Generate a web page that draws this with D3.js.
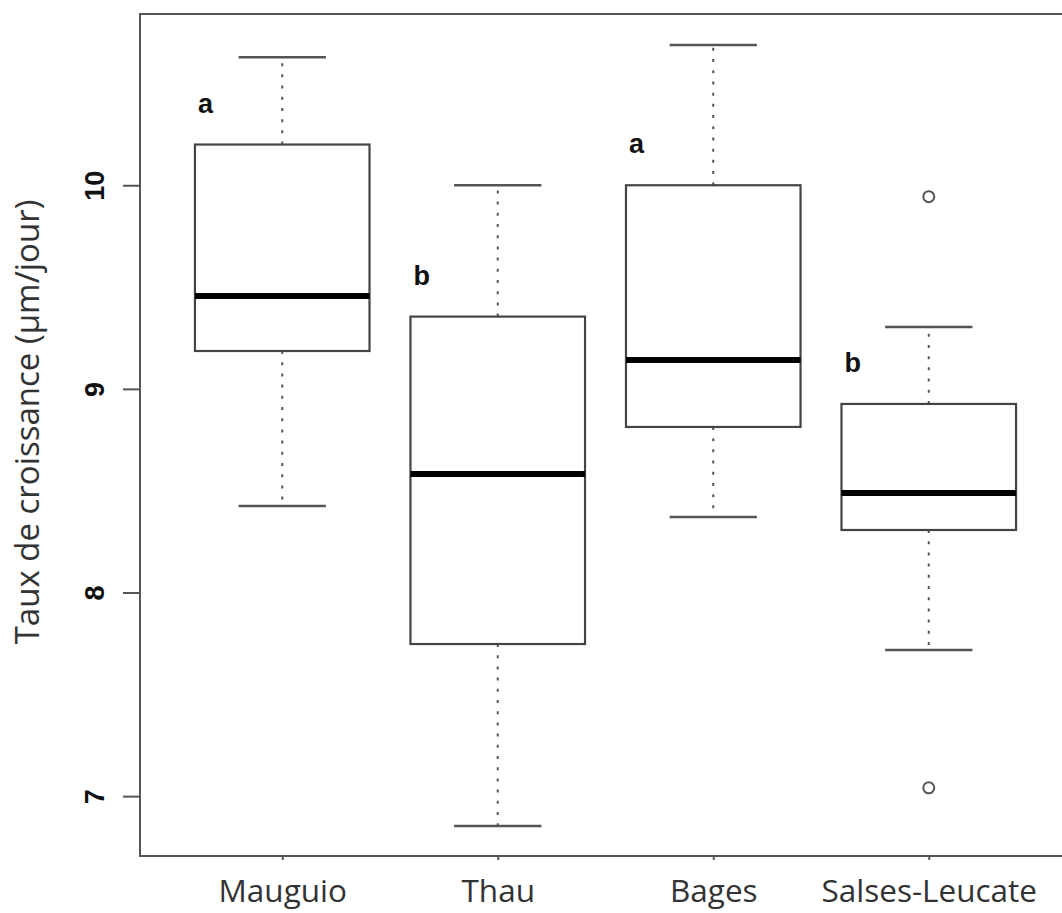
<!DOCTYPE html>
<html>
<head>
<meta charset="utf-8">
<script src="https://cdn.jsdelivr.net/npm/d3@7"></script>
<style>
  html, body { margin: 0; padding: 0; background: #fff; }
  svg { display: block; }
</style>
</head>
<body>
<svg id="chart" width="1062" height="913"></svg>
<script>
// ---- data ----
const categories = ["Mauguio", "Thau", "Bages", "Salses-Leucate"];
const whiskerLow  = [8.425, 6.853, 8.371, 7.718];
const q1          = [9.186, 7.747, 8.813, 8.307];
const median      = [9.456, 8.582, 9.142, 8.489];
const q3          = [10.20, 9.355, 10.00, 8.926];
const whiskerHigh = [10.629, 10.00, 10.689, 9.304];
const outliers    = [[], [], [], [9.944, 7.041]];
const groupLetters = ["a", "b", "a", "b"];
const yTicks = [7, 8, 9, 10];
const yTitle = "Taux de croissance (µm/jour)";

// ---- layout ----
const W = 1062, H = 913;
const frame = { left: 140, right: 1071, top: 14, bottom: 856 };
const svg = d3.select("#chart");

const x = d3.scalePoint().domain(categories)
  .range([frame.left, frame.right]).padding(0.66);
const y = d3.scaleLinear().domain([6.706, 10.841])
  .range([frame.bottom, frame.top]);

const boxW = x.step() * 0.81;
const capW = boxW / 2;
const grey = "#555";

const data = categories.map((c, i) => ({
  c, lo: whiskerLow[i], q1: q1[i], med: median[i], q3: q3[i], hi: whiskerHigh[i],
  out: outliers[i], letter: groupLetters[i]
}));

// frame
svg.append("rect")
  .attr("x", frame.left).attr("y", frame.top)
  .attr("width", frame.right - frame.left).attr("height", frame.bottom - frame.top)
  .attr("fill", "none").attr("stroke", grey).attr("stroke-width", 2);

// y axis
const yAxis = d3.axisLeft(y).tickValues(yTicks).tickSize(17).tickPadding(0).tickFormat(d3.format("d"));
const yg = svg.append("g").attr("transform", `translate(${frame.left},0)`).call(yAxis);
yg.select(".domain").remove();
yg.selectAll(".tick line").attr("stroke", grey).attr("stroke-width", 2);
yg.selectAll(".tick text")
  .attr("transform", "rotate(-90)")
  .attr("x", 0).attr("y", -36).attr("dy", 0)
  .attr("text-anchor", "middle")
  .style("font-family", "'Liberation Sans', Arial, sans-serif")
  .style("font-weight", "bold").style("font-size", "27px").attr("fill", "#111");

// x axis
const xAxis = d3.axisBottom(x).tickSize(4).tickPadding(0);
const xg = svg.append("g").attr("transform", `translate(0,${frame.bottom})`).call(xAxis);
xg.select(".domain").remove();
xg.selectAll(".tick line").attr("stroke", grey).attr("stroke-width", 2);
xg.selectAll(".tick text")
  .attr("y", 46).attr("dy", 0)
  .style("font-family", "'Open Sans', sans-serif")
  .style("font-size", "31.5px").attr("fill", "#333");

// y title
svg.append("text")
  .attr("transform", `translate(39,422) rotate(-90)`)
  .attr("text-anchor", "middle")
  .style("font-family", "'Open Sans', sans-serif")
  .style("font-size", "33px").attr("fill", "#333")
  .text(yTitle);

// boxes
const g = svg.append("g");
const b = g.selectAll("g.box").data(data).join("g").attr("class", "box");

// whiskers (dotted)
b.append("line")
  .attr("x1", d => x(d.c)).attr("x2", d => x(d.c))
  .attr("y1", d => y(d.q3)).attr("y2", d => y(d.hi))
  .attr("stroke", grey).attr("stroke-width", 2).attr("stroke-dasharray", "3,8.2");
b.append("line")
  .attr("x1", d => x(d.c)).attr("x2", d => x(d.c))
  .attr("y1", d => y(d.q1)).attr("y2", d => y(d.lo))
  .attr("stroke", grey).attr("stroke-width", 2).attr("stroke-dasharray", "3,8.2");
// caps
["hi", "lo"].forEach(k => {
  b.append("line")
    .attr("x1", d => x(d.c) - capW / 2).attr("x2", d => x(d.c) + capW / 2)
    .attr("y1", d => y(d[k])).attr("y2", d => y(d[k]))
    .attr("stroke", grey).attr("stroke-width", 2.5);
});
// box rect
b.append("rect")
  .attr("x", d => x(d.c) - boxW / 2).attr("width", boxW)
  .attr("y", d => y(d.q3)).attr("height", d => y(d.q1) - y(d.q3))
  .attr("fill", "#fff").attr("stroke", "#444").attr("stroke-width", 2.2);
// median
b.append("line")
  .attr("x1", d => x(d.c) - boxW / 2).attr("x2", d => x(d.c) + boxW / 2)
  .attr("y1", d => y(d.med)).attr("y2", d => y(d.med))
  .attr("stroke", "#000").attr("stroke-width", 6);
// outliers
b.selectAll("circle").data(d => d.out.map(v => ({ c: d.c, v })))
  .join("circle")
  .attr("cx", d => x(d.c)).attr("cy", d => y(d.v)).attr("r", 5.5)
  .attr("fill", "none").attr("stroke", grey).attr("stroke-width", 2);
// letters
b.append("text")
  .attr("x", d => x(d.c) - boxW / 2 + 3)
  .attr("y", d => y(d.q3) - 32)
  .style("font-family", "'Liberation Sans', Arial, sans-serif")
  .style("font-weight", "bold").style("font-size", "27px").attr("fill", "#111")
  .text(d => d.letter);
</script>
</body>
</html>
